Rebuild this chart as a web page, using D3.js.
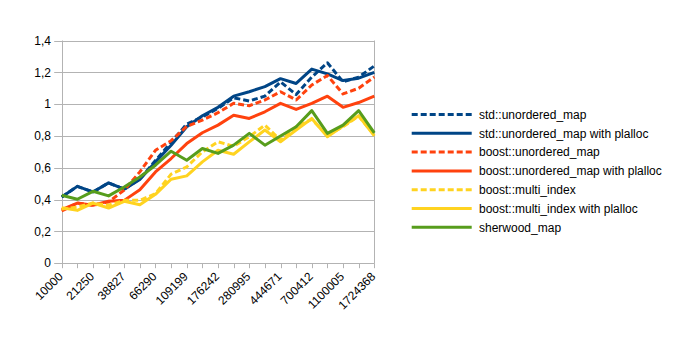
<!DOCTYPE html>
<html><head><meta charset="utf-8">
<script src="https://cdn.jsdelivr.net/npm/d3@7"></script>
<style>
html,body{margin:0;padding:0;background:#fff;}
text{font-family:"Liberation Sans",Arial,sans-serif;font-size:12px;fill:#000;}
</style></head>
<body><svg id="c" width="689" height="340"></svg>
<script>
const categories = [10000,15000,21250,29062,38827,51032,66290,85362,109199,138727,176242,222544,280995,353483,444671,558078,700412,877907,1100005,1377255,1724368];
const yTicks = [0,0.2,0.4,0.6,0.8,1,1.2,1.4];
const seriesNames = ["std::unordered_map","std::unordered_map with plalloc","boost::unordered_map","boost::unordered_map with plalloc","boost::multi_index","boost::multi_index with plalloc","sherwood_map"];
const stdMap        = [0.416,0.483,0.448,0.505,0.465,0.53,0.645,0.76,0.875,0.92,0.973,1.04,1.02,1.05,1.14,1.06,1.17,1.26,1.14,1.17,1.24];
const stdMapPl      = [0.416,0.483,0.448,0.505,0.465,0.526,0.637,0.742,0.858,0.927,0.98,1.05,1.078,1.11,1.16,1.13,1.22,1.19,1.148,1.163,1.2];
const boostMap      = [0.328,0.378,0.364,0.385,0.46,0.574,0.71,0.77,0.86,0.90,0.946,1.005,0.99,1.026,1.078,1.026,1.12,1.18,1.064,1.10,1.17];
const boostMapPl    = [0.336,0.378,0.364,0.39,0.395,0.462,0.574,0.658,0.752,0.82,0.868,0.93,0.91,0.952,1.005,0.967,1.005,1.05,0.98,1.01,1.05];
const multiIndex    = [0.34,0.353,0.378,0.364,0.395,0.395,0.437,0.56,0.605,0.70,0.763,0.735,0.795,0.868,0.774,0.858,0.904,0.805,0.858,0.925,0.805];
const multiIndexPl  = [0.349,0.332,0.378,0.347,0.389,0.368,0.433,0.528,0.549,0.637,0.71,0.685,0.763,0.837,0.763,0.837,0.91,0.795,0.862,0.927,0.80];
const sherwood      = [0.427,0.402,0.452,0.423,0.479,0.542,0.616,0.704,0.647,0.721,0.69,0.742,0.816,0.742,0.80,0.858,0.959,0.816,0.868,0.959,0.82];
const seriesValues = [stdMap,stdMapPl,boostMap,boostMapPl,multiIndex,multiIndexPl,sherwood];
const seriesColors = ["#004586","#004586","#ff420e","#ff420e","#ffd320","#ffd320","#579d1c"];
const seriesDashed = [true,false,true,false,true,false,false];

const svg = d3.select("#c");
const L=61.7, R=374.3, T=40.5, B=263.2;
const x = d3.scalePoint().domain(categories.map(String)).range([L,R]);
const y = d3.scaleLinear().domain([0,1.4]).range([B,T]);
const grid="#b3b3b3";

// gridlines
svg.append("g").selectAll("line").data(yTicks).join("line")
  .attr("x1",L-7.5).attr("x2",R).attr("y1",d=>Math.round(y(d))+0.5).attr("y2",d=>Math.round(y(d))+0.5)
  .attr("stroke",grid).attr("stroke-width",1);
// y labels
svg.append("g").selectAll("text").data(yTicks).join("text")
  .attr("x",51).attr("y",d=>y(d)).attr("dy","0.35em").attr("text-anchor","end")
  .text(d=>d3.format(".1f")(d).replace(/\.0$/,"").replace(".",","));
// left axis & right border
svg.append("line").attr("x1",Math.round(L)+0.5).attr("x2",Math.round(L)+0.5).attr("y1",T).attr("y2",B).attr("stroke",grid);
svg.append("line").attr("x1",Math.round(R)+0.5).attr("x2",Math.round(R)+0.5).attr("y1",T).attr("y2",B).attr("stroke",grid);
// x ticks
svg.append("g").selectAll("line").data(categories).join("line")
  .attr("x1",d=>Math.round(x(String(d)))+0.5).attr("x2",d=>Math.round(x(String(d)))+0.5)
  .attr("y1",B).attr("y2",B+5).attr("stroke",grid);
// x labels
svg.append("g").selectAll("text").data(categories.filter((d,i)=>i%2===0)).join("text")
  .attr("transform",d=>`translate(${x(String(d))+2},${B+14}) rotate(-45)`)
  .attr("text-anchor","end")
  .text(d=>d);

// lines
const line = d3.line().x((d,i)=>x(String(categories[i]))).y(d=>y(d));
seriesValues.forEach((vals,k)=>{
  svg.append("path").datum(vals).attr("d",line).attr("fill","none")
    .attr("stroke",seriesColors[k]).attr("stroke-width",3)
    .attr("stroke-linejoin","round")
    .attr("stroke-dasharray",seriesDashed[k]?"6,3":null);
});

// legend
const lg = svg.append("g");
seriesNames.forEach((n,k)=>{
  const yy = 114.5 + k*18.8;
  lg.append("line").attr("x1",411.7).attr("x2",471.7).attr("y1",yy).attr("y2",yy)
    .attr("stroke",seriesColors[k]).attr("stroke-width",3)
    .attr("stroke-dasharray",seriesDashed[k]?"6,3":null);
  lg.append("text").attr("x",479).attr("y",yy).attr("dy","0.35em").text(n);
});
</script></body></html>
